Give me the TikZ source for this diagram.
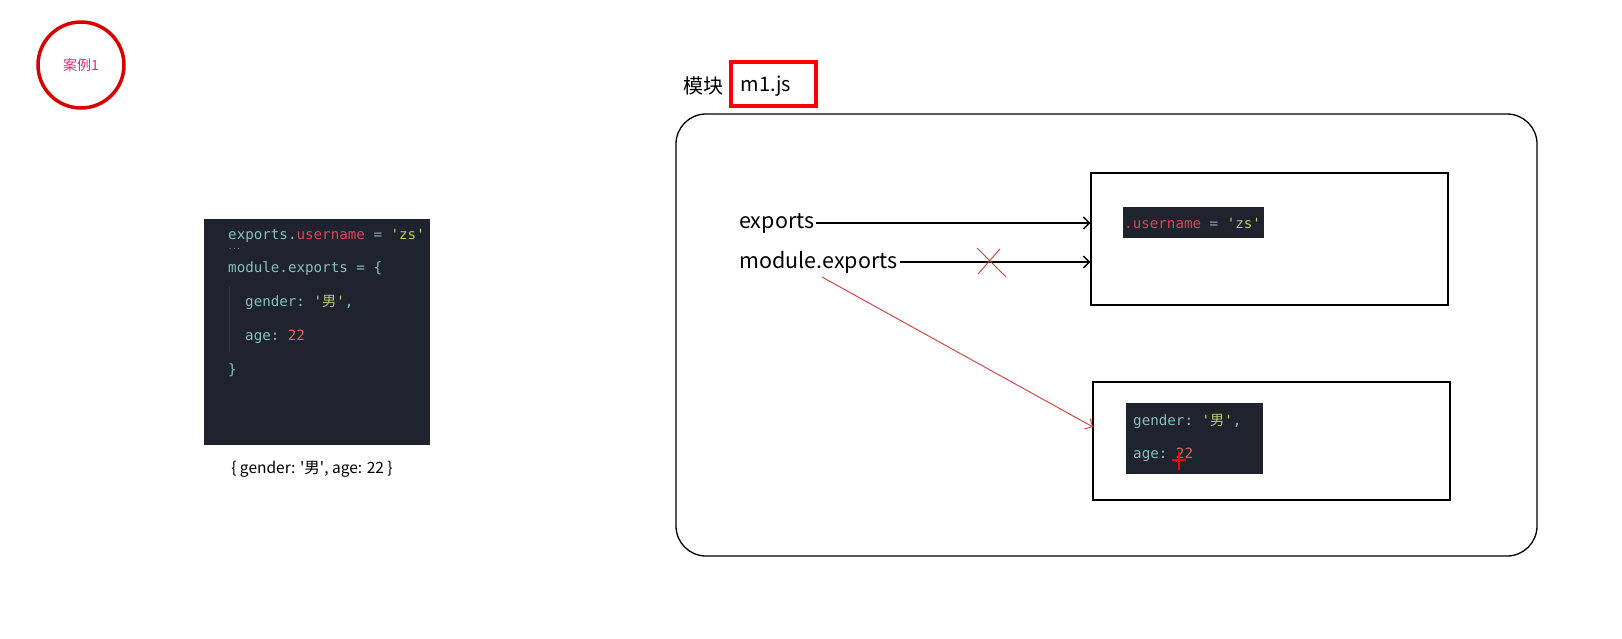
\documentclass[tikz,border=0pt]{standalone}
\usepackage{fontspec}
\setmainfont{Noto Sans CJK SC}
\setmonofont{DejaVu Sans Mono}
\newfontfamily\cjk{Noto Sans CJK SC}
\usetikzlibrary{positioning,arrows.meta}

\definecolor{codebg}{HTML}{1E232D}
\definecolor{codeteal}{HTML}{86C1B9}
\definecolor{codered}{HTML}{E0445A}
\definecolor{codestr}{HTML}{B8CC66}
\definecolor{codenum}{HTML}{E0665A}
\definecolor{codegray}{HTML}{9AA5B1}
\definecolor{codeguide}{HTML}{343B47}
\definecolor{markred}{HTML}{D83838}
\definecolor{casepink}{HTML}{D0307A}

\tikzset{
  codeline/.style={anchor=west, inner sep=0pt, text=codeteal,
    font=\ttfamily\fontsize{14.2}{16}\selectfont},
  plaintext/.style={inner sep=2pt, font=\fontsize{21.5}{24}\selectfont},
  objbox/.style={draw, line width=1.4pt, inner sep=0pt},
  ptr/.style={-{Straight Barb[length=6pt,width=12pt]}, line width=1.3pt},
  redptr/.style={-{Straight Barb[length=6pt,width=12pt]}, line width=0.9pt, markred},
}

\begin{document}
\begin{tikzpicture}[x=1pt, y=-1pt]
  \useasboundingbox (0,0) rectangle (1622,638);

  % Case marker
  \draw[line width=3.5pt, red!85!black] (81,65) circle (43);
  \node[inner sep=0pt, text=casepink, font=\fontsize{14}{16}\selectfont] (case) at (81,65) {案例1};

  % Code on the left
  \fill[codebg] (204,219) rectangle (430,445);
  \draw[line width=1pt, codeguide] (229,287) -- (229,352);
  \node[codeline] (c1) at (228,236) {exports.\textcolor{codered}{username} \textcolor{codegray}{=} \textcolor{codestr}{'zs'}};
  \node[codeline, text=codegray, font=\ttfamily\fontsize{7}{8}\selectfont] (c2) at (228,249) {...};
  \node[codeline] (c3) at (228,269) {module.exports = \{};
  \node[codeline] (c4) at (245,302) {gender: \textcolor{codestr}{'{\cjk 男}'},};
  \node[codeline] (c5) at (245,337) {age: \textcolor{codenum}{22}};
  \node[codeline] (c6) at (228,370) {\}};
  \node[inner sep=0pt, font=\fontsize{15.5}{18}\selectfont] (result) at (312,469) {\{ gender: \textquotesingle 男\textquotesingle, age: 22 \}};

  % Module title
  \node[plaintext, font=\fontsize{20}{24}\selectfont] (title) at (703,86) {模块};
  \draw[line width=3.5pt, red] (731,62) rectangle (816,106);
  \node[plaintext, font=\fontsize{20}{24}\selectfont] (file) at (766,86) {m1.js};

  % Module body
  \draw[line width=1.3pt, rounded corners=30pt] (676,114) rectangle (1537,556);

  % Exported objects
  \node[objbox, minimum width=357pt, minimum height=132pt] (objA) at (1269.5,239) {};
  \node[objbox, minimum width=357pt, minimum height=118pt] (objB) at (1271.5,441) {};

  \fill[codebg] (1123,207) rectangle (1264,238);
  \node[codeline, text=codered] (a1) at (1124,223) {.username \textcolor{codegray}{=} \textcolor{codestr}{'zs'}};

  \fill[codebg] (1126,403) rectangle (1263,474);
  \node[codeline] (b1) at (1133,421) {gender: \textcolor{codestr}{'{\cjk 男}'},};
  \node[codeline] (b2) at (1133,455) {age: \textcolor{codenum}{22}};
  \draw[line width=2pt, red] (1172,460) -- (1186,460) (1179,452) -- (1179,470);

  % References
  \node[plaintext, anchor=west] (exp) at (737,223) {exports};
  \node[plaintext, anchor=west] (mexp) at (737,262) {module.exports};
  \draw[ptr] (exp.east) -- (exp.east -| objA.west);
  \draw[ptr] (mexp.east) -- (mexp.east -| objA.west);
  \draw[line width=0.9pt, markred] (977,248) -- (1006,277) (1000,249) -- (978,274);

  \coordinate (mfrom) at (822,277);
  \coordinate (mto) at (1093,427);
  \draw[redptr] (mfrom) -- (mto);
\end{tikzpicture}
\end{document}
